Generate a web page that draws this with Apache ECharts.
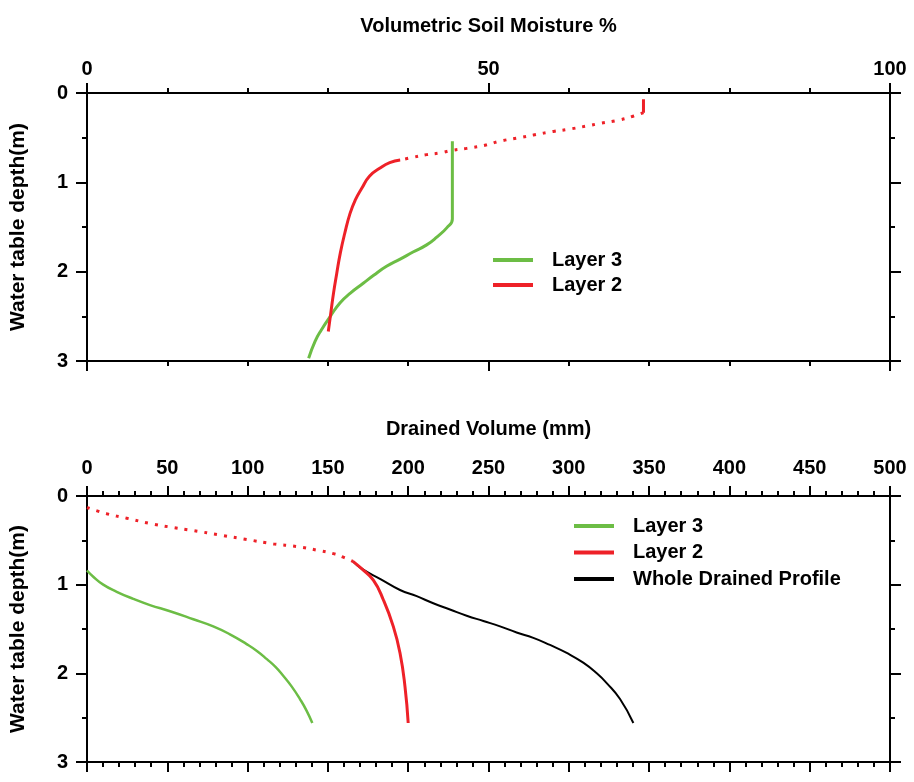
<!DOCTYPE html>
<html>
<head>
<meta charset="utf-8">
<script src="https://cdn.jsdelivr.net/npm/echarts@6/dist/echarts.min.js"></script>
<style>
  html, body { margin: 0; padding: 0; background: #fff; }
  #chart { width: 914px; height: 782px; }
</style>
</head>
<body>
<div id="chart"></div>
<script>
// Upper panel: volumetric soil moisture (%) against water table depth (m)
const moistureLayer2Top = [[69.3, 0.07], [69.3, 0.22]];
const moistureLayer2Dotted = [
  [69.3, 0.22], [68.0, 0.26], [66.4, 0.30], [63.9, 0.34], [62.2, 0.37], [59.7, 0.41],
  [58.1, 0.43], [55.6, 0.47], [53.9, 0.50], [51.4, 0.54], [49.8, 0.58], [47.3, 0.62],
  [45.6, 0.64], [44.0, 0.67], [42.3, 0.69], [40.6, 0.72], [39.0, 0.75]
];
const moistureLayer2 = [
  [39.0, 0.75], [37.7, 0.78], [36.5, 0.84], [35.2, 0.93], [34.2, 1.07], [33.4, 1.20],
  [32.75, 1.35], [32.1, 1.57], [31.55, 1.79], [31.1, 2.02], [30.7, 2.24], [30.35, 2.47],
  [30.05, 2.67]
];
const moistureLayer3 = [
  [45.5, 0.54], [45.5, 1.41], [44.8, 1.51], [43.6, 1.61], [42.3, 1.70], [40.6, 1.78],
  [39.0, 1.86], [37.3, 1.94], [35.7, 2.04], [34.4, 2.13], [32.8, 2.24], [31.5, 2.35],
  [30.3, 2.50], [29.2, 2.65], [28.4, 2.78], [27.6, 2.97]
];

// Lower panel: drained volume (mm) against water table depth (m)
const drainedLayer2Dotted = [
  [0, 0.13], [12.3, 0.20], [24.7, 0.25], [39.2, 0.31], [51.7, 0.35], [66.2, 0.39],
  [82.8, 0.44], [99.4, 0.49], [116.0, 0.54], [130.6, 0.57], [143.0, 0.61], [153.4, 0.65],
  [159.6, 0.69], [165.8, 0.74]
];
const drainedLayer2 = [
  [165.8, 0.74], [171.0, 0.82], [178.3, 0.95], [184.5, 1.17], [190.7, 1.47],
  [194.9, 1.77], [198.0, 2.15], [200.0, 2.56]
];
const drainedLayer3 = [
  [0, 0.84], [3.9, 0.91], [10.1, 1.00], [18.5, 1.08], [28.8, 1.16], [39.2, 1.23],
  [51.7, 1.30], [66.2, 1.39], [78.6, 1.47], [89.0, 1.56], [99.4, 1.67], [106.0, 1.75],
  [112.0, 1.84], [117.5, 1.93], [122.3, 2.03], [127.5, 2.15], [132.6, 2.29], [136.7, 2.42],
  [140.3, 2.56]
];
const drainedWhole = [
  [165.8, 0.74], [171.0, 0.82], [183.0, 0.94], [194.9, 1.06], [205.3, 1.13], [215.6, 1.21],
  [226.0, 1.28], [236.4, 1.35], [246.8, 1.41], [257.2, 1.47], [267.5, 1.54], [277.9, 1.60],
  [288.3, 1.68], [298.7, 1.77], [309.0, 1.88], [317.4, 2.00], [323.6, 2.11], [331.9, 2.29],
  [340.2, 2.56]
];

const GREEN = '#6cbd45';
const RED = '#ee2128';
const BLACK = '#000000';
const FONT = 'Liberation Sans';

const axisLine = { show: true, onZero: false, lineStyle: { color: '#000', width: 2 } };
const labelStyle = { color: '#000', fontFamily: FONT, fontWeight: 'bold', fontSize: 20 };
const nameStyle = { color: '#000', fontFamily: FONT, fontWeight: 'bold', fontSize: 20 };

function xAxis(grid, pos, max, showLabels, name, margin, gap) {
  return {
    type: 'value', gridIndex: grid, position: pos, min: 0, max: max, interval: 50,
    axisLine: axisLine,
    axisTick: { show: true, length: 10, lineStyle: { color: '#000', width: 2 } },
    minorTick: { show: true, splitNumber: 5, length: 5, lineStyle: { color: '#000', width: 2 } },
    axisLabel: Object.assign({ show: showLabels, margin: margin || 14 }, labelStyle),
    splitLine: { show: false }, minorSplitLine: { show: false },
    name: name || '', nameLocation: 'middle', nameGap: gap || 57, nameTextStyle: nameStyle
  };
}
function yAxis(grid, pos, showLabels) {
  return {
    type: 'value', gridIndex: grid, position: pos, inverse: true, min: 0, max: 3, interval: 1,
    axisLine: axisLine,
    axisTick: { show: true, length: 11, lineStyle: { color: '#000', width: 2 } },
    minorTick: { show: true, splitNumber: 2, length: 5, lineStyle: { color: '#000', width: 2 } },
    axisLabel: Object.assign({ show: showLabels, margin: 19 }, labelStyle),
    splitLine: { show: false }, minorSplitLine: { show: false },
    name: showLabels ? 'Water table depth(m)' : '', nameLocation: 'middle', nameGap: 58,
    nameRotate: 90, nameTextStyle: Object.assign({}, nameStyle, { fontSize: 21 })
  };
}
function line(name, data, xi, yi, color, width, type) {
  return {
    type: 'line', name: name, data: data, xAxisIndex: xi, yAxisIndex: yi,
    showSymbol: false, smooth: 0.5, animation: false, z: 3,
    lineStyle: { color: color, width: width, type: type || 'solid' },
    itemStyle: { color: color }
  };
}

const legendText = { color: '#000', fontFamily: FONT, fontWeight: 'bold', fontSize: 20, padding: [0, 0, 0, 14], lineHeight: 22 };

const option = {
  backgroundColor: '#fff',
  animation: false,
  grid: [
    { left: 87, right: 24, top: 93, height: 268 },
    { left: 87, right: 24, top: 496, height: 266 }
  ],
  xAxis: [
    xAxis(0, 'top', 100, true, 'Volumetric Soil Moisture %', 14, 57),
    xAxis(0, 'bottom', 100, false),
    xAxis(1, 'top', 500, true, 'Drained Volume (mm)', 18, 57),
    xAxis(1, 'bottom', 500, false)
  ],
  yAxis: [
    yAxis(0, 'left', true),
    yAxis(0, 'right', false),
    yAxis(1, 'left', true),
    yAxis(1, 'right', false)
  ],
  legend: [
    {
      orient: 'vertical', left: 488, top: 244, itemWidth: 40, itemHeight: 4, itemGap: 3,
      icon: 'rect', textStyle: legendText, selectedMode: false,
      data: [
        { name: 'Layer 3', itemStyle: { color: GREEN } },
        { name: 'Layer 2', itemStyle: { color: RED } }
      ]
    },
    {
      orient: 'vertical', left: 569, top: 510, itemWidth: 40, itemHeight: 4, itemGap: 4.5,
      icon: 'rect', textStyle: legendText, selectedMode: false,
      data: [
        { name: 'Layer 3 ', itemStyle: { color: GREEN } },
        { name: 'Layer 2 ', itemStyle: { color: RED } },
        { name: 'Whole Drained Profile', itemStyle: { color: BLACK } }
      ]
    }
  ],
  series: [
    line('Layer 3', moistureLayer3, 0, 0, GREEN, 3),
    line('Layer 2', moistureLayer2Top, 0, 0, RED, 3),
    line('Layer 2', moistureLayer2Dotted, 0, 0, RED, 3, [3, 7]),
    line('Layer 2', moistureLayer2, 0, 0, RED, 3),
    line('Whole Drained Profile', drainedWhole, 2, 2, BLACK, 2),
    line('Layer 3 ', drainedLayer3, 2, 2, GREEN, 2.5),
    line('Layer 2 ', drainedLayer2Dotted, 2, 2, RED, 3, [3, 7]),
    line('Layer 2 ', drainedLayer2, 2, 2, RED, 3)
  ]
};

const chart = echarts.init(document.getElementById('chart'), null, { renderer: 'canvas' });
chart.setOption(option);
</script>
</body>
</html>
